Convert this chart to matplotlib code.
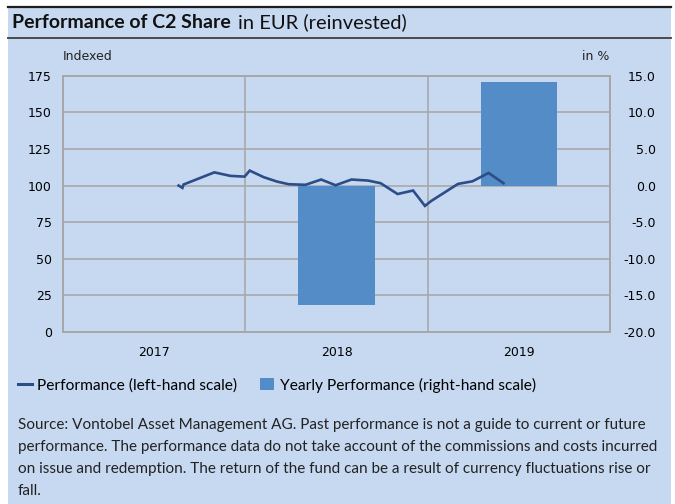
import numpy as np
import matplotlib

matplotlib.use("Agg")
from matplotlib import pyplot as plt
from matplotlib.lines import Line2D
from matplotlib.patches import Patch, Rectangle

# fund performance, indexed (left-hand scale), x as fractional year
perf_x = [2017.634, 2017.655, 2017.661, 2017.830, 2017.918, 2017.996, 2018.024,
          2018.101, 2018.174, 2018.238, 2018.330, 2018.416, 2018.495, 2018.582,
          2018.673, 2018.742, 2018.835, 2018.920, 2018.985, 2019.020, 2019.166,
          2019.246, 2019.334, 2019.416]
perf_y = [100.0, 98.4, 100.7, 109.0, 106.6, 106.1, 110.2,
          105.7, 102.7, 100.9, 100.5, 104.1, 100.2, 104.1,
          103.4, 101.6, 94.2, 96.6, 86.1, 89.5, 101.1,
          102.9, 108.6, 101.6]

# yearly performance in % (right-hand scale)
years = [2017, 2018, 2019]
bar_years = [2018, 2019]
bar_values = [-16.3, 14.1]

left_ticks = [0, 25, 50, 75, 100, 125, 150, 175]
right_ticks = [-20, -15, -10, -5, 0, 5, 10, 15]

BG = "#c6d9f1"
BAR = "#538cc6"
LINE = "#2c4d87"
GRID = "#a6a6a6"
W, H = 675, 504

fig = plt.figure(figsize=(W / 100, H / 100), dpi=100, facecolor="white")

# panel background and header rules
fig.patches.append(Rectangle((8 / W, 0), 663 / W, 1 - 7 / H, transform=fig.transFigure,
                             facecolor=BG, edgecolor="none", zorder=-10))
fig.add_artist(Line2D([8 / W, 671 / W], [1 - 7 / H] * 2, color="#1e1e1e", lw=1.6, zorder=-5))
fig.add_artist(Line2D([8 / W, 671 / W], [1 - 38 / H] * 2, color="#4a4a4a", lw=1.4, zorder=-5))

t1 = fig.text(12 / W, 1 - 22 / H, "Performance of C2 Share", fontsize=14, fontweight="bold",
              family="Lato", va="center", ha="left", color="#111111")
fig.canvas.draw()
bb = t1.get_window_extent()
fig.text((bb.x1 + 7) / W, 1 - 22 / H, "in EUR (reinvested)", fontsize=14.5,
         family="Lato", va="center", ha="left", color="#111111")

ax2 = fig.add_axes([63 / W, 1 - 332 / H, 547 / W, (332 - 75.7) / H])
ax = ax2.twinx()
ax.set_zorder(ax2.get_zorder() + 1)
ax.patch.set_visible(False)
ax2.set_facecolor(BG)

# bars on right-hand scale (drawn on ax2 with grid behind)
ax2.bar([y + 0.5 for y in bar_years], bar_values, width=0.42, color=BAR, zorder=2)
ax2.set_ylim(-20, 15)
ax2.set_yticks(right_ticks)
ax2.set_yticklabels([f"{v:.1f}" for v in right_ticks], ha="right")
ax2.yaxis.tick_right()
ax2.grid(axis="y", color=GRID, lw=1.1, zorder=0)
ax2.set_axisbelow(True)

ax2.set_xlim(years[0], years[-1] + 1)
ax2.set_xticks([y + 0.5 for y in years])
ax2.set_xticklabels([str(y) for y in years])
ax2.set_xticks([years[0] + i for i in range(len(years) + 1)], minor=True)
ax2.grid(axis="x", which="minor", color=GRID, lw=1.1, zorder=0)
ax2.tick_params(axis="x", which="both", length=0, pad=10, labelsize=9)
ax2.tick_params(axis="y", length=0, pad=33, labelsize=9)

# line on left-hand scale
ax.plot(perf_x, perf_y, color=LINE, lw=1.9, solid_joinstyle="miter", zorder=3)
ax.set_ylim(0, 175)
ax.set_yticks(left_ticks)
ax.yaxis.tick_left()
ax.tick_params(axis="y", length=0, pad=8, labelsize=9)

for a in (ax, ax2):
    for s in a.spines.values():
        s.set_color(GRID)
        s.set_linewidth(1.1)

fig.text(63 / W, 1 - 57 / H, "Indexed", fontsize=9, ha="left", va="center", color="#222222")
fig.text(609 / W, 1 - 57 / H, "in %", fontsize=9, ha="right", va="center", color="#222222")

handles = [Line2D([], [], color=LINE, lw=2.2), Patch(facecolor=BAR, edgecolor="none")]
labels = ["Performance (left-hand scale)", "Yearly Performance (right-hand scale)"]
fig.legend(handles, labels, loc="center left", bbox_to_anchor=(4 / W, 1 - 385 / H), ncol=2,
           frameon=False, handlelength=0.9, handleheight=0.8, handletextpad=0.35,
           columnspacing=1.45, prop={"family": "Lato", "size": 11.2})

source = ("Source: Vontobel Asset Management AG. Past performance is not a guide to current or future\n"
          "performance. The performance data do not take account of the commissions and costs incurred\n"
          "on issue and redemption. The return of the fund can be a result of currency fluctuations rise or\n"
          "fall.")
fig.text(18 / W, 1 - 418 / H, source, fontsize=11.0, family="Lato", ha="left", va="top",
         linespacing=1.72, color="#222222")

fig.savefig("out.png", dpi=100, facecolor="white")
